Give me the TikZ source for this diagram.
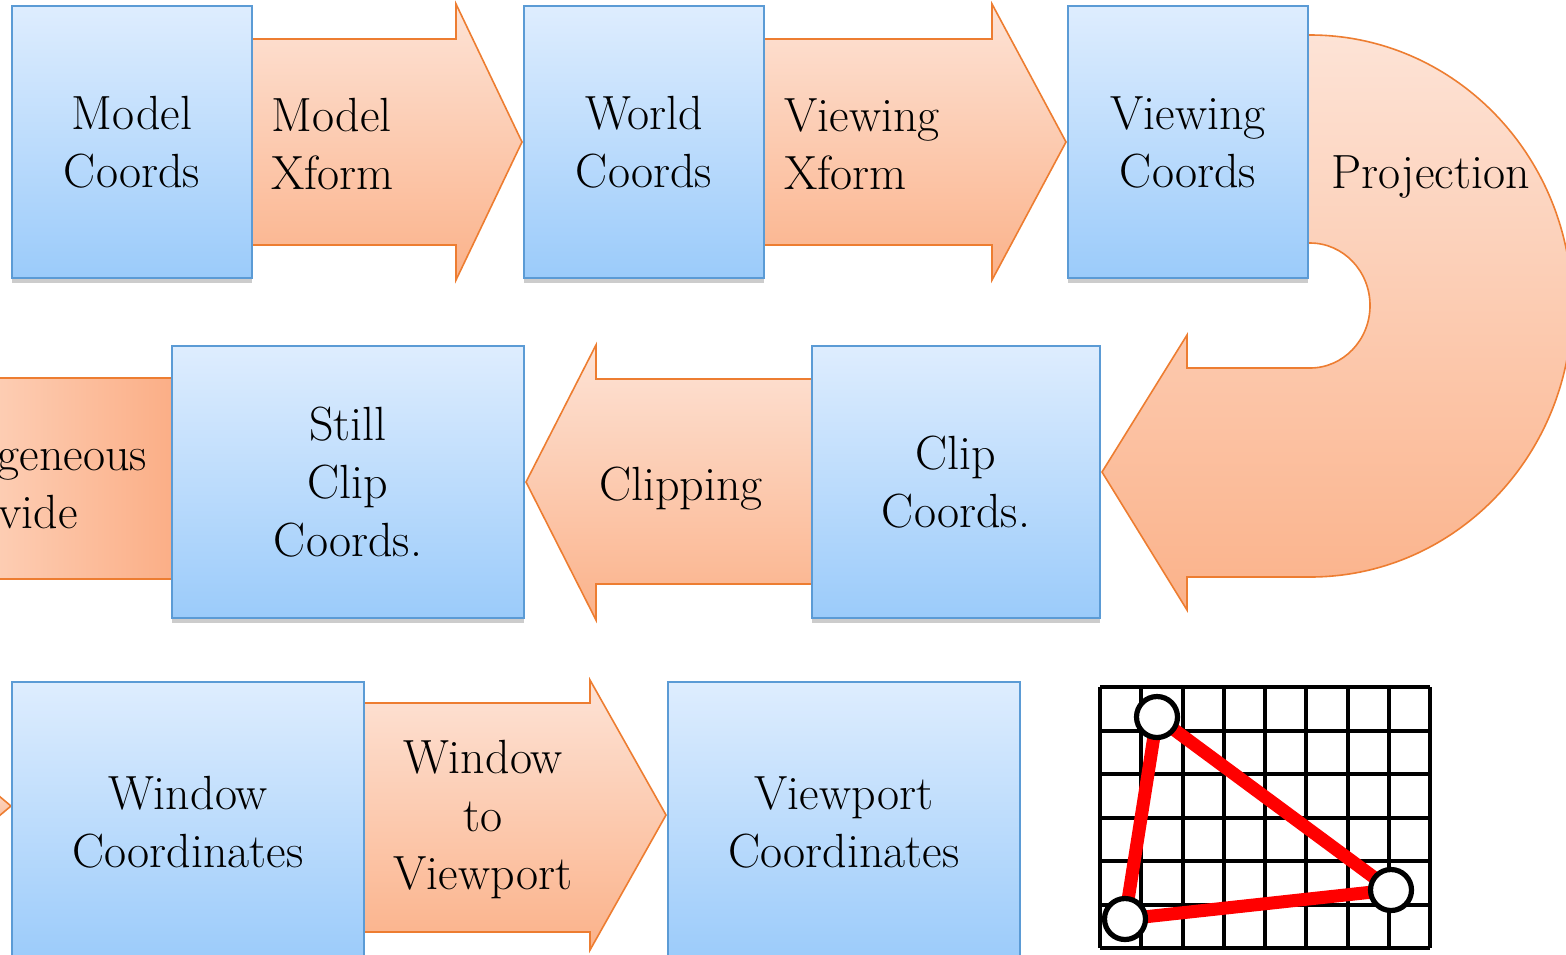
\documentclass[tikz,border=0pt]{standalone}
\usetikzlibrary{shadows}
\definecolor{bluetop}{HTML}{DEEDFE}
\definecolor{bluebot}{HTML}{9BCBFA}
\definecolor{blueedge}{HTML}{5B9BD5}
\definecolor{ortop}{HTML}{FDE3D6}
\definecolor{orbot}{HTML}{FBB28A}
\definecolor{orleft}{HTML}{FDCDB3}
\definecolor{orright}{HTML}{FBAE86}
\definecolor{oredge}{HTML}{ED7D31}
\begin{document}
\begin{tikzpicture}[x=0.5pt,y=-0.5pt,
  box/.style={draw=blueedge, line width=1pt, top color=bluetop, bottom color=bluebot,
    drop shadow={shadow xshift=0pt, shadow yshift=-2.5pt, opacity=0.2, fill=black},
    inner sep=0pt, align=center, font=\fontsize{24}{29}\selectfont},
  arr/.style={draw=oredge, line width=0.8pt, top color=ortop, bottom color=orbot},
  lbl/.style={font=\fontsize{24}{29}\selectfont, text=black, inner sep=0pt},
  gridline/.style={line width=2pt, black},
  vertex/.style={circle, draw=black, fill=white, line width=2.6pt, minimum size=20.5pt, inner sep=0pt},
]
\useasboundingbox (0,0) rectangle (1566,954);
\clip (0,0) rectangle (1566,954);

% ---------- row 1 arrows ----------
\path[arr] (250,39) -- (456,39) -- (456,4) -- (522,142) -- (456,280) -- (456,245) -- (250,245) -- cycle;
\path[arr] (762,39) -- (992,39) -- (992,4) -- (1066,142) -- (992,280) -- (992,245) -- (762,245) -- cycle;

% ---------- U-turn arrow ----------
\path[arr] (1306,35) -- (1310,35) arc[start angle=-90, end angle=90, x radius=262, y radius=271]
  -- (1187,577) -- (1187,610) -- (1102,472) -- (1187,335) -- (1187,368) -- (1310,368)
  arc[start angle=90, end angle=-90, x radius=60, y radius=62.5] -- (1306,243) -- cycle;

% ---------- row 2 arrows ----------
\path[draw=oredge, line width=0.8pt, left color=orleft, right color=orright] (-2,378) rectangle (174,579);
\path[arr] (814,379) -- (596,379) -- (596,345) -- (526,482) -- (596,620) -- (596,584) -- (814,584) -- cycle;

% ---------- row 3 arrows ----------
\path[arr] (-20,780) -- (11,806) -- (-20,832) -- cycle;
\path[arr] (362,703) -- (590,703) -- (590,680) -- (666,815) -- (590,950) -- (590,932) -- (362,932) -- cycle;

% ---------- boxes ----------
\node[box, minimum width=120pt, minimum height=136pt] (mc) at (132,142) {Model\\Coords};
\node[box, minimum width=120pt, minimum height=136pt] (wc) at (644,142) {World\\Coords};
\node[box, minimum width=120pt, minimum height=136pt] (vc) at (1188,142) {Viewing\\Coords};
\node[box, minimum width=176pt, minimum height=136pt] (scc) at (348,482) {Still\\Clip\\Coords.};
\node[box, minimum width=144pt, minimum height=136pt] (cc) at (956,482) {Clip\\Coords.};
\node[box, minimum width=176pt, minimum height=140pt] (winc) at (188,822) {Window\\Coordinates};
\node[box, minimum width=176pt, minimum height=140pt] (vpc) at (844,822) {Viewport\\Coordinates};

% ---------- arrow labels ----------
\node[lbl, anchor=west, align=left] (mx) at (271,144) {Model\\Xform};
\node[lbl, anchor=west, align=left] (vx) at (784,144) {Viewing\\Xform};
\node[lbl, anchor=base west] (proj) at (1331,188) {Projection};
\node[lbl, anchor=base] (clip) at (681,500) {Clipping};
\node[lbl, align=center] (hd) at (15,483) {Homogeneous\\Divide};
\node[lbl, align=center] (wv) at (483,820) {Window\\to\\Viewport};

% ---------- grid ----------
\foreach \i in {0,...,8} {
  \draw[gridline] ({1100+\i*41.25},687) -- ({1100+\i*41.25},948);
}
\foreach \j in {0,...,6} {
  \draw[gridline] (1100,{687+\j*43.5}) -- (1430,{687+\j*43.5});
}
\coordinate (pa) at (1157,717);
\coordinate (pb) at (1391,890);
\coordinate (pc) at (1125,919);
\draw[red, line width=6.5pt, line join=round] (pa) -- (pb) -- (pc) -- cycle;
\node[vertex] (va) at (pa) {};
\node[vertex] (vb) at (pb) {};
\node[vertex] (vcc) at (pc) {};
\end{tikzpicture}
\end{document}
